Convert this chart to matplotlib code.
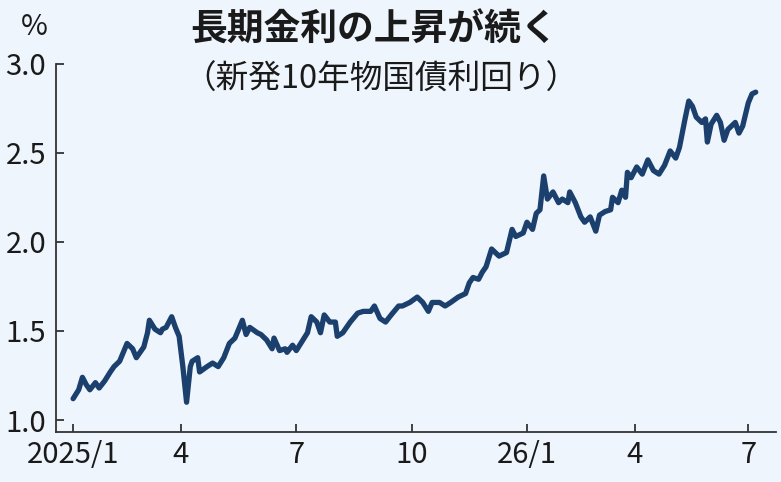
import matplotlib
matplotlib.use("Agg")
import matplotlib.pyplot as plt
import numpy as np

# 新発10年物国債利回り（%）
dates = [
    "2024-12-30", "2025-01-08", "2025-01-10", "2025-01-15", "2025-01-17", "2025-01-22",
    "2025-01-24", "2025-01-29", "2025-02-03", "2025-02-05", "2025-02-10", "2025-02-13",
    "2025-02-17", "2025-02-20", "2025-02-25", "2025-03-03", "2025-03-05", "2025-03-06",
    "2025-03-11", "2025-03-14", "2025-03-17", "2025-03-19", "2025-03-25", "2025-03-27",
    "2025-03-31", "2025-04-02", "2025-04-04", "2025-04-08", "2025-04-09", "2025-04-14",
    "2025-04-15", "2025-04-21", "2025-04-24", "2025-04-30", "2025-05-07", "2025-05-12",
    "2025-05-15", "2025-05-21", "2025-05-23", "2025-05-27", "2025-06-02", "2025-06-04",
    "2025-06-09", "2025-06-12", "2025-06-13", "2025-06-18", "2025-06-23", "2025-06-24",
    "2025-06-27", "2025-07-01", "2025-07-04", "2025-07-09", "2025-07-11", "2025-07-16",
    "2025-07-18", "2025-07-23", "2025-07-28", "2025-07-31", "2025-08-01", "2025-08-06",
    "2025-08-13", "2025-08-19", "2025-08-22", "2025-08-28", "2025-09-01", "2025-09-04",
    "2025-09-09", "2025-09-12", "2025-09-19", "2025-09-24", "2025-09-30", "2025-10-06",
    "2025-10-09", "2025-10-15", "2025-10-17", "2025-10-23", "2025-10-28", "2025-10-31",
    "2025-11-07", "2025-11-13", "2025-11-17", "2025-11-19", "2025-11-25", "2025-11-27",
    "2025-12-01", "2025-12-04", "2025-12-10", "2025-12-16", "2025-12-19", "2025-12-23",
    "2025-12-29", "2026-01-05", "2026-01-08", "2026-01-13", "2026-01-15", "2026-01-19",
    "2026-01-21", "2026-01-26", "2026-01-29", "2026-02-02", "2026-02-05", "2026-02-06",
    "2026-02-12", "2026-02-17", "2026-02-19", "2026-02-25", "2026-03-02", "2026-03-04",
    "2026-03-09", "2026-03-12", "2026-03-13", "2026-03-18", "2026-03-23", "2026-03-25",
    "2026-03-26", "2026-03-30", "2026-04-02", "2026-04-07", "2026-04-10", "2026-04-15",
    "2026-04-20", "2026-04-23", "2026-04-28", "2026-05-07", "2026-05-11", "2026-05-14",
    "2026-05-18", "2026-05-20", "2026-05-22", "2026-05-27", "2026-05-29", "2026-06-01",
    "2026-06-03", "2026-06-08", "2026-06-10", "2026-06-12", "2026-06-16", "2026-06-22",
    "2026-06-24", "2026-06-26", "2026-07-01", "2026-07-03", "2026-07-07",
]
yields = [
    1.12, 1.17, 1.24, 1.20, 1.17, 1.21,
    1.18, 1.22, 1.27, 1.30, 1.33, 1.38,
    1.43, 1.40, 1.35, 1.41, 1.49, 1.56,
    1.51, 1.49, 1.51, 1.52, 1.58, 1.52,
    1.47, 1.30, 1.10, 1.30, 1.33, 1.35,
    1.27, 1.30, 1.32, 1.30, 1.35, 1.43,
    1.46, 1.56, 1.48, 1.52, 1.49, 1.48,
    1.45, 1.40, 1.46, 1.39, 1.40, 1.38,
    1.42, 1.39, 1.44, 1.49, 1.58, 1.55,
    1.49, 1.59, 1.55, 1.55, 1.47, 1.49,
    1.55, 1.60, 1.61, 1.61, 1.64, 1.57,
    1.55, 1.59, 1.64, 1.64, 1.66, 1.69,
    1.66, 1.61, 1.66, 1.66, 1.64, 1.66,
    1.69, 1.71, 1.77, 1.80, 1.79, 1.83,
    1.86, 1.96, 1.92, 1.94, 2.07, 2.03,
    2.05, 2.11, 2.07, 2.16, 2.18, 2.37,
    2.24, 2.28, 2.22, 2.24, 2.22, 2.28,
    2.22, 2.14, 2.11, 2.14, 2.06, 2.15,
    2.17, 2.18, 2.25, 2.22, 2.29, 2.25,
    2.39, 2.36, 2.42, 2.38, 2.46, 2.40,
    2.38, 2.43, 2.51, 2.47, 2.53, 2.69,
    2.79, 2.76, 2.70, 2.67, 2.69, 2.56,
    2.66, 2.71, 2.67, 2.57, 2.63, 2.67,
    2.61, 2.65, 2.78, 2.83, 2.84,
]

tick_dates = ["2025-01-01", "2025-04-01", "2025-07-01", "2025-10-01",
              "2026-01-01", "2026-04-01", "2026-07-01"]
tick_labels = ["2025/1", "4", "7", "10", "26/1", "4", "7"]
y_ticks = [1.0, 1.5, 2.0, 2.5, 3.0]

# 東京市場の休場日（営業日ベースの横軸用）
holidays = [
    "2024-12-31", "2025-01-01", "2025-01-02", "2025-01-03", "2025-01-13",
    "2025-02-11", "2025-02-24", "2025-03-20", "2025-04-29", "2025-05-05",
    "2025-05-06", "2025-07-21", "2025-08-11", "2025-09-15", "2025-09-23",
    "2025-10-13", "2025-11-03", "2025-11-24", "2025-12-31", "2026-01-01",
    "2026-01-02", "2026-01-12", "2026-02-11", "2026-02-23", "2026-03-20",
    "2026-04-29", "2026-05-04", "2026-05-05", "2026-05-06", "2026-07-20",
]
base = "2025-01-06"


def bday(d):
    return np.busday_count(base, np.array(d, dtype="datetime64[D]"), holidays=holidays)


bg = "#eef5fc"
line_color = "#1b406e"
text_color = "#1a1a1a"
num_font = ["Liberation Sans Narrow", "DejaVu Sans Condensed", "Noto Sans CJK JP"]
jp_font = ["Noto Sans CJK JP", "DejaVu Sans"]

fig = plt.figure(figsize=(7.81, 4.82), dpi=100, facecolor=bg)
ax = fig.add_axes([0.0717, 0.1037, 0.9219, 0.768])
ax.set_facecolor(bg)

ax.plot(bday(dates), yields, color=line_color, linewidth=3.8,
        solid_joinstyle="round", solid_capstyle="round")

ax.set_xlim(-10.2, 376.9)
ax.set_ylim(0.933, 3.01)

ax.set_xticks(bday(tick_dates))
ax.set_xticklabels(tick_labels)
ax.set_yticks(y_ticks)
ax.set_yticklabels([f"{v:.1f}" for v in y_ticks])

for s in ["top", "right"]:
    ax.spines[s].set_visible(False)
for s in ["left", "bottom"]:
    ax.spines[s].set_color("#333333")
    ax.spines[s].set_linewidth(1.3)
ax.spines["left"].set_bounds(0.933, 3.0)

ax.tick_params(axis="both", direction="in", length=6, width=1.3, color="#333333",
               labelcolor=text_color)
ax.tick_params(axis="y", pad=7)
ax.tick_params(axis="x", pad=6)
for lab in ax.get_xticklabels() + ax.get_yticklabels():
    lab.set_family(num_font)
    lab.set_fontsize(21)

fig.text(0.044, 0.944, "%", fontsize=21, family=num_font, color=text_color,
         ha="center", va="center")
fig.text(0.479, 0.937, "長期金利の上昇が続く", fontsize=26.5, fontweight="bold",
         family=jp_font, color=text_color, ha="center", va="center")
fig.text(0.488, 0.834, "（新発10年物国債利回り）", fontsize=23.5,
         family=jp_font, color=text_color, ha="center", va="center")

fig.savefig("out.png", dpi=100, facecolor=bg)
